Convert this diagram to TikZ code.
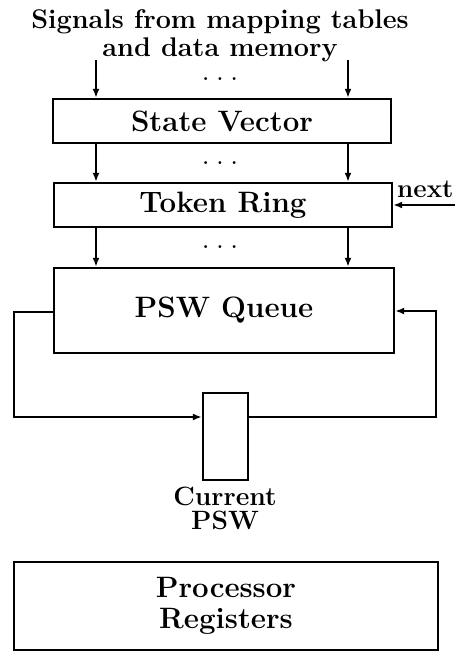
\documentclass[tikz,border=0pt]{standalone}
\usetikzlibrary{arrows.meta}
\begin{document}
\begin{tikzpicture}[x=1pt,y=-1pt,
  box/.style={draw,line width=2.4pt,rectangle,inner sep=0pt,font=\fontsize{29.5}{31}\selectfont\bfseries},
  lbl/.style={inner sep=0pt,align=center,font=\fontsize{27}{28}\selectfont\bfseries},
  wire/.style={line width=2pt,-{Latex[length=9pt,width=7pt]}},
  dots/.style={inner sep=0pt,font=\fontsize{20}{20}\selectfont\bfseries}]
\useasboundingbox (0,0) rectangle (460,654);
% boxes
\node[box,minimum width=338pt,minimum height=44pt] (sv) at (222,121) {State Vector};
\node[box,minimum width=338pt,minimum height=44pt] (tr) at (223,205) {Token Ring};
\node[box,minimum width=340pt,minimum height=85pt] (pq) at (224,310.5) {PSW Queue};
\node[box,minimum width=45pt,minimum height=87pt] (cur) at (225.5,436.5) {};
\node[box,minimum width=424pt,minimum height=88pt,align=center] (pr) at (226,606) {Processor\\Registers};
% labels
\node[lbl] (title) at (220,36) {Signals from mapping tables\\and data memory};
\node[lbl,font=\fontsize{26.5}{24}\selectfont\bfseries] (curl) at (225,508) {Current\\PSW};
\node[lbl,font=\fontsize{26}{24}\selectfont\bfseries,anchor=west] (next) at (397,189) {next};
\node[dots] (d1) at (220,79) {.\hspace{8pt}.\hspace{8pt}.};
\node[dots] (d2) at (220,163) {.\hspace{8pt}.\hspace{8pt}.};
\node[dots] (d3) at (220,247) {.\hspace{8pt}.\hspace{8pt}.};
% coordinates
\coordinate (l) at (96,60);
\coordinate (r) at (348,60);
\coordinate (nx) at (455,205);
\coordinate (fl) at (14,312);
\coordinate (fr) at (436,311);
\coordinate (fy) at (0,417);
% connectors
\draw[wire] (l) -- (l |- sv.north);
\draw[wire] (r) -- (r |- sv.north);
\draw[wire] (l |- sv.south) -- (l |- tr.north);
\draw[wire] (r |- sv.south) -- (r |- tr.north);
\draw[wire] (l |- tr.south) -- (l |- pq.north);
\draw[wire] (r |- tr.south) -- (r |- pq.north);
\draw[wire] (nx) -- (nx -| tr.east);
\draw[wire] (fl -| pq.west) -- (fl) |- (fy -| cur.west);
\draw[wire] (fy -| cur.east) -| (fr) -- (fr -| pq.east);
\end{tikzpicture}
\end{document}
